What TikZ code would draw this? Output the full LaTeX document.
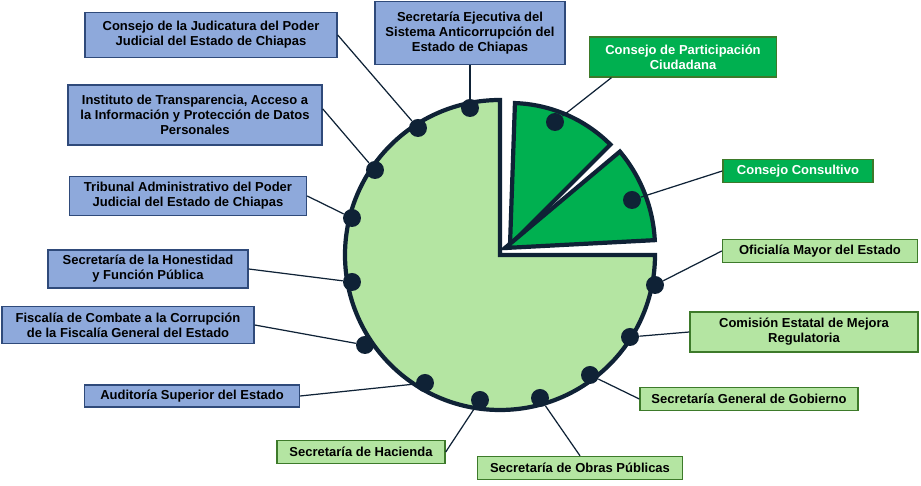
\documentclass[tikz,border=0pt]{standalone}
\usepackage{fontspec}
\setmainfont{Liberation Sans}
\usetikzlibrary{calc}
\definecolor{navy}{HTML}{0F2236}
\definecolor{bluebox}{HTML}{8EA9DB}
\definecolor{blueline}{HTML}{2F4A7A}
\definecolor{lgreen}{HTML}{B4E5A2}
\definecolor{dgreen}{HTML}{00B050}
\definecolor{gline}{HTML}{3D7A2A}
\tikzset{
  box/.style={draw, line width=0.8pt, align=center, inner xsep=3pt, inner ysep=2pt,
    font=\fontsize{7.4}{8.6}\selectfont\bfseries},
  sz/.style 2 args={minimum width=#1*0.02cm, minimum height=#2*0.02cm},
  blue/.style={box, fill=bluebox, draw=blueline},
  pale/.style={box, fill=lgreen, draw=gline},
  dark/.style={box, fill=dgreen, draw=gline, text=white},
  dot/.style={circle, fill=navy, inner sep=0pt, minimum size=0.36cm},
  lead/.style={draw=navy, line width=0.7pt},
  slice/.style={draw=navy, line width=2.4pt, line join=miter}
}
\begin{document}
\begin{tikzpicture}[x=0.02cm, y=0.02cm]
  \useasboundingbox (0,0) rectangle (921,486);
  % pie
  \coordinate (c) at (500,231);
  \filldraw[slice, fill=lgreen] (c) -- ++(90:155) arc (90:360:155) -- cycle;
  \filldraw[slice, fill=dgreen] (510,241) -- ++(45:142) arc (45:88:142) -- cycle;
  \filldraw[slice, fill=dgreen] (505,238) -- ++(3:150) arc (3:40:150) -- cycle;
  % dots
  \node[dot] (d1) at (470,378) {};
  \node[dot] (d2) at (418,358) {};
  \node[dot] (d3) at (375,316) {};
  \node[dot] (d4) at (352,268) {};
  \node[dot] (d5) at (352,204) {};
  \node[dot] (d6) at (365,141) {};
  \node[dot] (d7) at (425,103) {};
  \node[dot] (d8) at (480,86) {};
  \node[dot] (d9) at (540,88) {};
  \node[dot] (d10) at (590,111) {};
  \node[dot] (d11) at (630,149) {};
  \node[dot] (d12) at (655,201) {};
  \node[dot] (d13) at (632,286) {};
  \node[dot] (d14) at (555,364) {};
  % labels
  \node[blue, sz={252}{45}] (judicatura) at (211,451)
    {Consejo de la Judicatura del Poder\\Judicial del Estado de Chiapas};
  \node[blue, sz={190}{63}] (ejecutiva) at (470,453)
    {Secretaría Ejecutiva del\\Sistema Anticorrupción del\\Estado de Chiapas};
  \node[blue, sz={254}{60}] (instituto) at (195,371)
    {Instituto de Transparencia, Acceso a\\la Información y Protección de Datos\\Personales};
  \node[blue, sz={237}{39}] (tribunal) at (188,290)
    {Tribunal Administrativo del Poder\\Judicial del Estado de Chiapas};
  \node[blue, sz={200}{38}] (honestidad) at (148,217)
    {Secretaría de la Honestidad\\y Función Pública};
  \node[blue, sz={252}{37}] (fiscalia) at (128,161)
    {Fiscalía de Combate a la Corrupción\\de la Fiscalía General del Estado};
  \node[blue, sz={215}{22}] (auditoria) at (192,90)
    {Auditoría Superior del Estado};
  \node[dark, sz={187}{40}] (participacion) at (683,429)
    {Consejo de Participación\\Ciudadana};
  \node[dark, sz={150}{23}] (consultivo) at (798,315)
    {Consejo Consultivo};
  \node[pale, sz={195}{23}] (oficialia) at (820,235)
    {Oficialía Mayor del Estado};
  \node[pale, sz={228}{40}] (mejora) at (804,154)
    {Comisión Estatal de Mejora\\Regulatoria};
  \node[pale, sz={218}{23}] (gobierno) at (749,87)
    {Secretaría General de Gobierno};
  \node[pale, sz={168}{23}] (hacienda) at (361,34)
    {Secretaría de Hacienda};
  \node[pale, sz={205}{23}] (obras) at (580,18)
    {Secretaría de Obras Públicas};
  % leaders
  \draw[lead] (d2) -- (judicatura.east);
  \draw[lead] (d1) -- (ejecutiva.south);
  \draw[lead] (d3) -- ($(instituto.north east)!0.4!(instituto.south east)$);
  \draw[lead] (d4) -- (tribunal.east);
  \draw[lead] (d5) -- (honestidad.east);
  \draw[lead] (d6) -- (fiscalia.east);
  \draw[lead] (d7) -- (auditoria.east);
  \draw[lead] (d8) -- (hacienda.east);
  \draw[lead] (d9) -- (obras.north);
  \draw[lead] (d10) -- (gobierno.west);
  \draw[lead] (d11) -- (mejora.west);
  \draw[lead] (d12) -- (oficialia.west);
  \draw[lead] (d13) -- (consultivo.west);
  \draw[lead] (d14) -- ($(participacion.south west)!0.12!(participacion.south east)$);
\end{tikzpicture}
\end{document}
